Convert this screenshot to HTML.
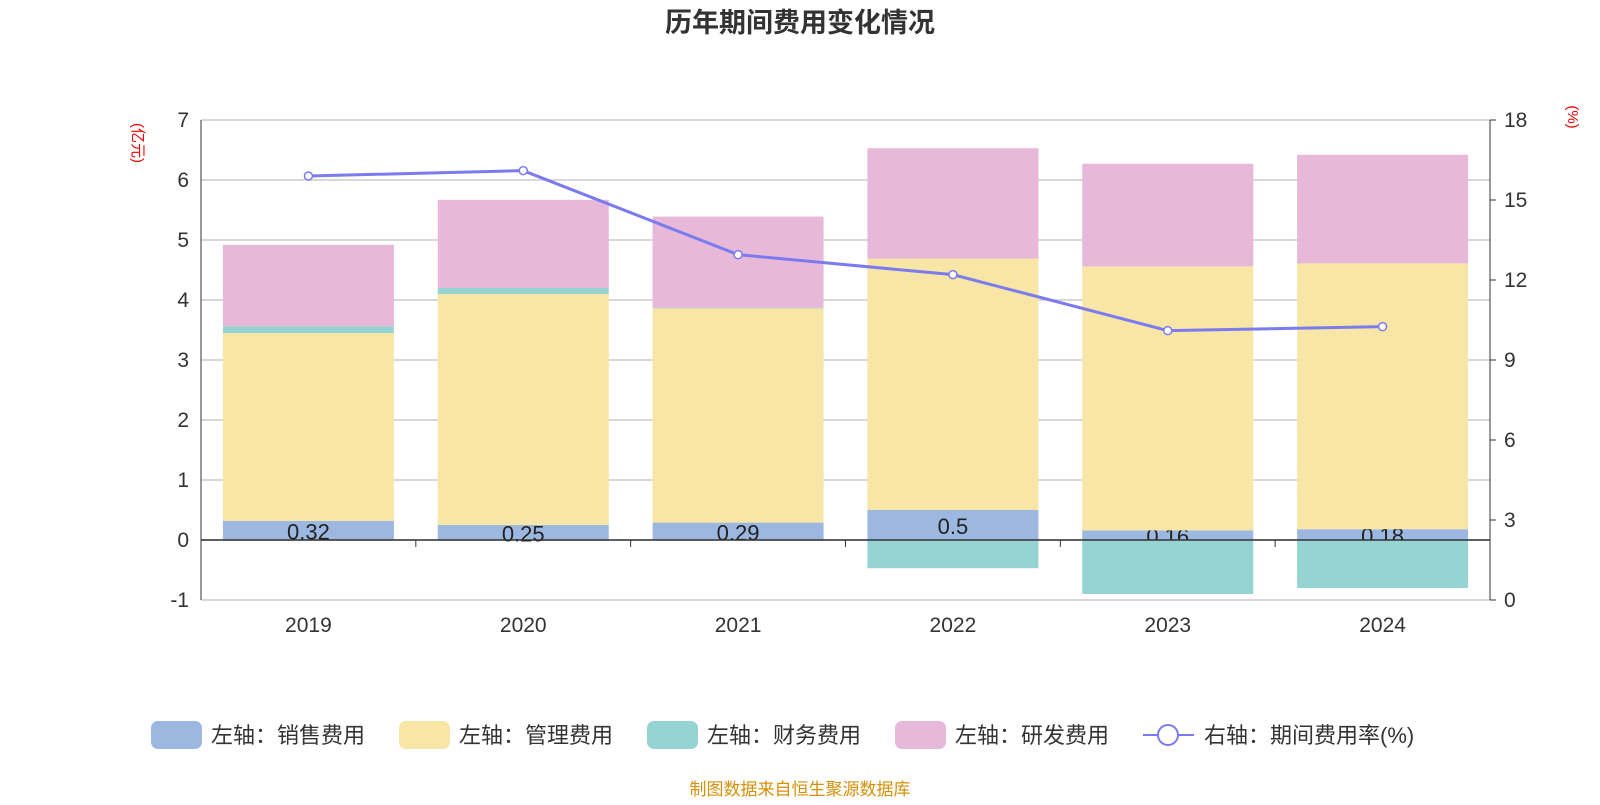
<!DOCTYPE html>
<html><head><meta charset="utf-8"><style>
body{margin:0;background:#fff;}
svg text{font-family:"Liberation Sans","Noto Sans CJK SC",sans-serif;}
</style></head><body>
<svg id="chart" width="1600" height="800" xmlns="http://www.w3.org/2000/svg">
<text x="800" y="32" text-anchor="middle" font-size="27" font-weight="bold" fill="#333">历年期间费用变化情况</text>
<text transform="translate(133,143) rotate(90)" text-anchor="middle" font-size="15" fill="#e00">(亿元)</text>
<text transform="translate(1568,117) rotate(90)" text-anchor="middle" font-size="15" fill="#e00">(%)</text>
<g id="grid"></g><g id="bars"></g><g id="axes"></g><g id="line"></g>
<g id="legend"></g>
<text x="800" y="795" text-anchor="middle" font-size="17" fill="#d4900a">制图数据来自恒生聚源数据库</text>
</svg>
<script>
const categories=["2019","2020","2021","2022","2023","2024"];
const sales=[0.32,0.25,0.29,0.5,0.16,0.18];
const mgmt=[3.13,3.85,3.57,4.19,4.40,4.43];
const finance=[0.11,0.1,0.01,-0.47,-0.9,-0.8];
const rnd=[1.36,1.47,1.52,1.84,1.71,1.81];
const rate=[15.9,16.1,12.95,12.2,10.1,10.25];
const leftTicks=[-1,0,1,2,3,4,5,6,7];
const rightTicks=[0,3,6,9,12,15,18];
const NS="http://www.w3.org/2000/svg";
const X0=201,X1=1490,YT=120,YB=600;
const yL=v=>YB-(v+1)/8*(YB-YT);
const yR=v=>YB-v/18*(YB-YT);
const bw=(X1-X0)/categories.length;
const xc=i=>X0+bw*(i+0.5);
function mk(tag,attrs,parent){const e=document.createElementNS(NS,tag);for(const k in attrs)e.setAttribute(k,attrs[k]);document.getElementById(parent).appendChild(e);return e;}
leftTicks.forEach(t=>{
 const l=mk('line',{x1:X0,x2:X1,y1:yL(t),y2:yL(t),stroke:'#ccc','stroke-width':1.5},'grid');
 
 
 const tx=mk('text',{x:X0-12,y:yL(t)+7,'text-anchor':'end','font-size':21,fill:'#333'},'axes');tx.textContent=t;
 
 
});
rightTicks.forEach(t=>{
 const tx=mk('text',{x:X1+14,y:yR(t)+7,'font-size':21,fill:'#333'},'axes');tx.textContent=t;
 
 
 const tk=mk('line',{x1:X1,x2:X1+6,y1:yR(t),y2:yR(t),stroke:'#333'},'axes');
 
 
});
let a=mk('line',{x1:X0,x2:X0,y1:YT,y2:YB,stroke:'#333'},'axes');
a=mk('line',{x1:X1,x2:X1,y1:YT,y2:YB,stroke:'#333'},'axes');
a=mk('line',{x1:X0,x2:X1,y1:yL(0),y2:yL(0),stroke:'#333','stroke-width':1.5},'axes');
for(let i=0;i<=categories.length;i++){const t=mk('line',{x1:X0+bw*i,x2:X0+bw*i,y1:yL(0),y2:yL(0)+7,stroke:'#333'},'axes');}
const BW=171;
categories.forEach((c,i)=>{
 const tx=mk('text',{x:xc(i),y:632,'text-anchor':'middle','font-size':21,fill:'#333'},'axes');tx.textContent=c;
 
 
 const x=xc(i)-BW/2;
 let pos=0,neg=0;
 const seg=(v,col,name)=>{let y0,y1;if(v>=0){y0=pos;y1=pos+v;pos=y1;}else{y0=neg;y1=neg+v;neg=y1;}
  const r=mk('rect',{x:x,width:BW,y:Math.min(yL(y0),yL(y1)),height:Math.abs(yL(y0)-yL(y1)),fill:col},'bars');
  
  };
 seg(sales[i],'#9db8e0','bar-sales-'+c);
 const lb=mk('text',{x:xc(i),y:(yL(0)+yL(sales[i]))/2+9,'text-anchor':'middle','font-size':22,fill:'#222'},'bars');lb.textContent=sales[i];
 
 
 seg(mgmt[i],'#f7e6a6','bar-management-'+c);
 seg(finance[i],'#96d4d4','bar-finance-'+c);
 seg(rnd[i],'#e7b8d8','bar-rnd-'+c);
});
const pts=rate.map((v,i)=>xc(i)+','+yR(v)).join(' ');
const pl=mk('polyline',{points:pts,fill:'none',stroke:'#7b7bef','stroke-width':3},'line');


rate.forEach((v,i)=>{const p=mk('circle',{cx:xc(i),cy:yR(v),r:4,fill:'#fff',stroke:'#7b7bef','stroke-width':1.5},'line');
 
 });
const legNames=["左轴：销售费用","左轴：管理费用","左轴：财务费用","左轴：研发费用"];
const legCols=['#9db8e0','#f7e6a6','#96d4d4','#e7b8d8'];
const legX=[151,399,647,895];
legNames.forEach((n,i)=>{
 const r=mk('rect',{x:legX[i],y:721,width:51,height:28,rx:7,fill:legCols[i]},'legend');
 
 
 const t=mk('text',{x:legX[i]+60,y:743,'font-size':22,fill:'#333'},'legend');t.textContent=n;
 
 
});
let l=mk('line',{x1:1143,x2:1194,y1:735,y2:735,stroke:'#7b7bef','stroke-width':2},'legend');
l=mk('circle',{cx:1168,cy:735,r:10,fill:'#fff',stroke:'#7b7bef','stroke-width':2},'legend');
l=mk('text',{x:1204,y:743,'font-size':22,fill:'#333'},'legend');l.textContent='右轴：期间费用率(%)';
</script>
</body></html>
